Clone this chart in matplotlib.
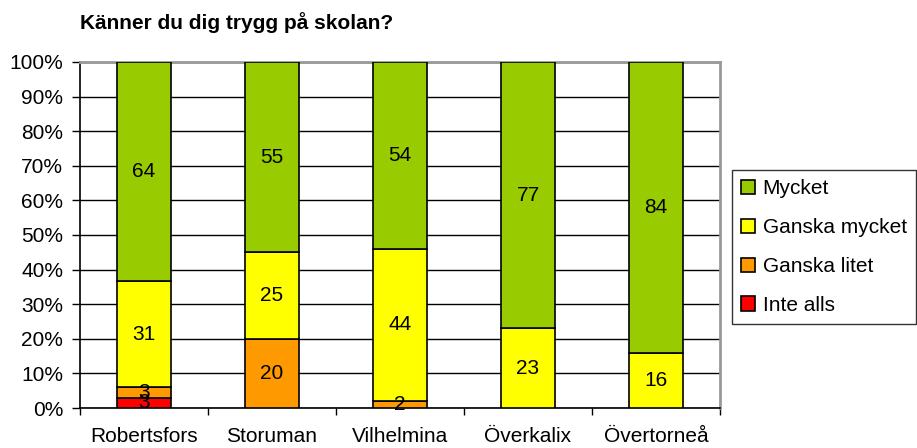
import numpy as np
import matplotlib
matplotlib.use("Agg")
import matplotlib.pyplot as plt

plt.rcParams['font.family'] = ['Liberation Sans', 'DejaVu Sans']

# data
kommuner = ["Robertsfors", "Storuman", "Vilhelmina", "Överkalix", "Övertorneå"]
inte_alls = [3, 0, 0, 0, 0]
ganska_litet = [3, 20, 2, 0, 0]
ganska_mycket = [31, 25, 44, 23, 16]
mycket = [64, 55, 54, 77, 84]

series = [("Inte alls", inte_alls, "#ff0000"),
          ("Ganska litet", ganska_litet, "#ff9900"),
          ("Ganska mycket", ganska_mycket, "#ffff00"),
          ("Mycket", mycket, "#99cc00")]

totals = np.array(inte_alls) + np.array(ganska_litet) + np.array(ganska_mycket) + np.array(mycket)

fig = plt.figure(figsize=(9.17, 4.48), dpi=100)
ax = fig.add_axes([80/917, 1-408/448, 640/917, 346/448])

x = np.arange(len(kommuner))
bottom = np.zeros(len(kommuner))
bars = []
for name, vals, col in series:
    pct = np.array(vals) / totals * 100
    b = ax.bar(x, pct, 0.42, bottom=bottom, color=col, edgecolor="black", linewidth=1.2, label=name, zorder=3)
    bars.append(b)
    for xi, p, v, bo in zip(x, pct, vals, bottom):
        if v > 0:
            ax.text(xi, bo + p/2, str(v), ha="center", va="center", fontsize=15, zorder=4)
    bottom = bottom + pct

ax.set_xlim(-0.5, len(kommuner) - 0.5)
ax.set_ylim(0, 100)
ax.set_yticks(np.arange(0, 101, 10))
ax.set_yticklabels([f"{v}%" for v in range(0, 101, 10)], fontsize=15)
ax.yaxis.grid(True, color="black", linewidth=1, zorder=0)
ax.set_xticks(x)
ax.set_xticklabels(kommuner, fontsize=15)
ax.tick_params(axis="x", length=0, pad=14)
ax.set_xticks(np.arange(-0.5, len(kommuner)), minor=True)
ax.tick_params(axis="x", which="minor", length=5, width=1)
ax.tick_params(axis="y", length=6, width=1, pad=6)

ax.spines["top"].set_color("#999999")
ax.spines["right"].set_color("#999999")
ax.spines["top"].set_linewidth(2)
ax.spines["right"].set_linewidth(2)
ax.spines["left"].set_linewidth(1.2)
ax.spines["bottom"].set_linewidth(1.2)

title = "Känner du dig trygg på skolan?"
fig.text(80/917, 1-23/448, title, fontsize=15, fontweight="bold", va="center", ha="left")

handles = [bars[3], bars[2], bars[1], bars[0]]
labels = ["Mycket", "Ganska mycket", "Ganska litet", "Inte alls"]
leg = fig.legend(handles, labels, loc="upper left", bbox_to_anchor=(732/917, 1-170/448),
                 fontsize=15, frameon=True, fancybox=False, edgecolor="black",
                 handlelength=0.67, handleheight=0.67, handletextpad=0.35, labelspacing=0.95,
                 borderpad=0.45, borderaxespad=0)
leg.get_frame().set_linewidth(1)

fig.savefig("out.png", dpi=100)
